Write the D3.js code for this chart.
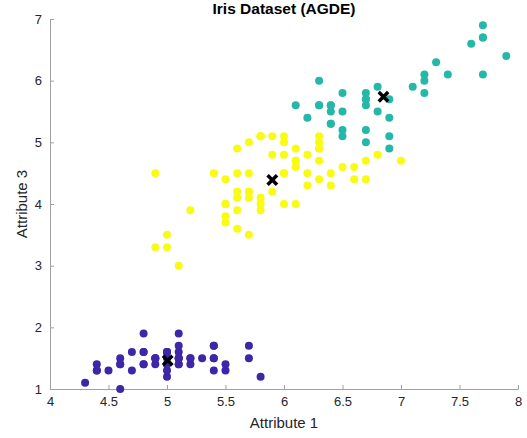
<!DOCTYPE html>
<meta charset="utf-8">
<style>
  body { margin: 0; background: #fff; }
  svg { font-family: "Liberation Sans", Arial, sans-serif; }
  .axis path, .axis line { stroke: #a0a0a0; }
  .axis text { fill: #262626; font-size: 13px; }
</style>
<body>
<script src="https://d3js.org/d3.v7.min.js"></script>
<script>
// cluster 1 (purple) : [attribute 1, attribute 3]
var cluster1 = [
  [5.1,1.4],[4.9,1.4],[4.7,1.3],[4.6,1.5],[5.0,1.4],[5.4,1.7],[4.6,1.4],[5.0,1.5],[4.4,1.4],[4.9,1.5],
  [5.4,1.5],[4.8,1.6],[4.8,1.4],[4.3,1.1],[5.8,1.2],[5.7,1.5],[5.4,1.3],[5.1,1.4],[5.7,1.7],[5.1,1.5],
  [5.4,1.7],[5.1,1.5],[4.6,1.0],[5.1,1.7],[4.8,1.9],[5.0,1.6],[5.0,1.6],[5.2,1.5],[5.2,1.4],[4.7,1.6],
  [4.8,1.6],[5.4,1.5],[5.2,1.5],[5.5,1.4],[4.9,1.5],[5.0,1.2],[5.5,1.3],[4.9,1.5],[4.4,1.3],[5.1,1.5],
  [5.0,1.3],[4.5,1.3],[4.4,1.3],[5.0,1.6],[5.1,1.9],[4.8,1.4],[5.1,1.6],[4.6,1.4],[5.3,1.5],[5.0,1.4]
];
// cluster 2 (yellow)
var cluster2 = [
  [7.0,4.7],[6.4,4.5],[5.5,4.0],[6.5,4.6],[5.7,4.5],[6.3,4.7],[4.9,3.3],[6.6,4.6],[5.2,3.9],[5.0,3.5],
  [5.9,4.2],[6.0,4.0],[6.1,4.7],[5.6,3.6],[6.7,4.4],[5.6,4.5],[5.8,4.1],[6.2,4.5],[5.6,3.9],[5.9,4.8],
  [6.1,4.0],[6.3,4.9],[6.1,4.7],[6.4,4.3],[6.6,4.4],[6.8,4.8],[6.0,4.5],[5.7,3.5],[5.5,3.8],[5.5,3.7],
  [5.8,3.9],[6.0,5.1],[5.4,4.5],[6.0,4.5],[6.7,4.7],[6.3,4.4],[5.6,4.1],[5.5,4.0],[5.5,4.4],[6.1,4.6],
  [5.8,4.0],[5.0,3.3],[5.6,4.2],[5.7,4.2],[5.7,4.2],[6.2,4.3],[5.1,3.0],[5.7,4.1],
  [5.8,5.1],[4.9,4.5],[5.7,5.0],[5.8,5.1],[6.0,5.0],[5.6,4.9],[6.3,4.9],[6.2,4.8],[6.1,4.9],[6.3,5.1],
  [6.0,4.8],[5.8,5.1],[6.3,5.0],[5.9,5.1]
];
// cluster 3 (teal)
var cluster3 = [
  [6.9,4.9],[6.7,5.0],[6.3,6.0],[7.1,5.9],[6.3,5.6],[6.5,5.8],[7.6,6.6],[7.3,6.3],[6.7,5.8],[7.2,6.1],
  [6.5,5.1],[6.4,5.3],[6.8,5.5],[6.4,5.3],[6.5,5.5],[7.7,6.7],[7.7,6.9],[6.9,5.7],[7.7,6.7],[6.7,5.7],
  [7.2,6.0],[6.4,5.6],[7.2,5.8],[7.4,6.1],[7.9,6.4],[6.4,5.6],[6.1,5.6],[7.7,6.1],[6.3,5.6],[6.4,5.5],
  [6.9,5.4],[6.7,5.6],[6.9,5.1],[6.8,5.9],[6.7,5.7],[6.7,5.2],[6.5,5.2],[6.2,5.4]
];
var centroids = [[5.006,1.462],[5.90,4.39],[6.85,5.74]];
var colors = ["#3e26a8", "#f9fb15", "#25b8a8"];
var xTicks = [4, 4.5, 5, 5.5, 6, 6.5, 7, 7.5, 8];
var yTicks = [1, 2, 3, 4, 5, 6, 7];

var margin = {top: 19, right: 9, bottom: 49, left: 50},
    width = 527 - margin.left - margin.right,
    height = 438 - margin.top - margin.bottom;

var svg = d3.select("body").append("svg")
    .attr("width", 527).attr("height", 438);
var g = svg.append("g")
    .attr("transform", "translate(" + margin.left + "," + margin.top + ")");

var x = d3.scaleLinear().domain([4, 8]).range([0, width]);
var y = d3.scaleLinear().domain([1, 7]).range([height, 0]);

g.append("g").attr("class", "axis")
    .attr("transform", "translate(0," + height + ")")
    .call(d3.axisBottom(x).tickValues(xTicks).tickFormat(d3.format("")).tickSizeInner(-4).tickSizeOuter(-4).tickPadding(8));

g.append("g").attr("class", "axis")
    .call(d3.axisLeft(y).tickValues(yTicks).tickFormat(d3.format("")).tickSizeInner(-4).tickSizeOuter(-4).tickPadding(8));

[cluster1, cluster2, cluster3].forEach(function(data, i) {
  g.append("g").selectAll("circle").data(data).enter().append("circle")
      .attr("cx", function(d) { return x(d[0]); })
      .attr("cy", function(d) { return y(d[1]); })
      .attr("r", 4)
      .attr("fill", colors[i]);
});

// bold x markers for the cluster centres
var cross = d3.symbol().type(d3.symbolX).size(60);
g.append("g").selectAll("path").data(centroids).enter().append("path")
    .attr("d", cross)
    .attr("transform", function(d) { return "translate(" + x(d[0]) + "," + y(d[1]) + ")"; })
    .attr("fill", "none").attr("stroke", "#000").attr("stroke-width", 3.5);

svg.append("text")
    .attr("x", margin.left + width / 2).attr("y", 14)
    .attr("text-anchor", "middle").attr("font-size", "15.5px").attr("font-weight", "bold")
    .attr("fill", "#000").text("Iris Dataset (AGDE)");

svg.append("text")
    .attr("x", margin.left + width / 2).attr("y", 428)
    .attr("text-anchor", "middle").attr("font-size", "15px").attr("fill", "#262626")
    .text("Attribute 1");

svg.append("text")
    .attr("transform", "translate(27," + (margin.top + height / 2) + ") rotate(-90)")
    .attr("text-anchor", "middle").attr("font-size", "15px").attr("fill", "#262626")
    .text("Attribute 3");
</script>
</body>
